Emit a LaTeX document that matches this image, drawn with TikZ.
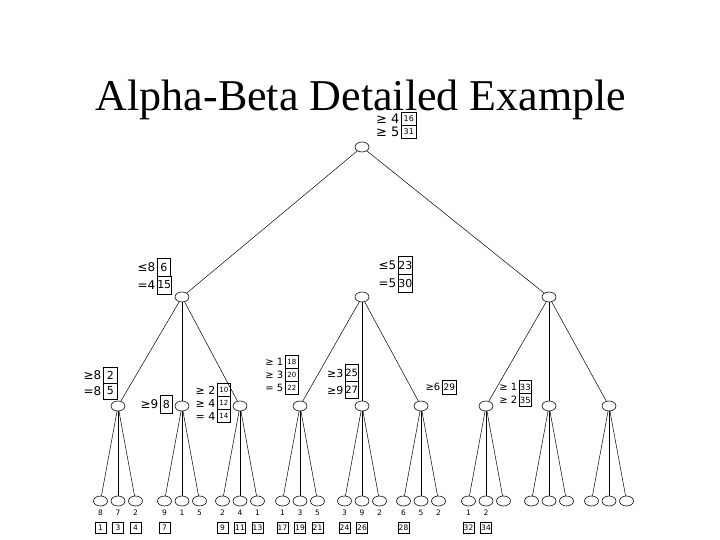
\documentclass[tikz,border=0pt]{standalone}
\usepackage{fontspec}
\setmainfont{Liberation Serif}
\newfontfamily\lblfont{DejaVu Sans}
\usetikzlibrary{shapes.geometric}
\newcommand\lrow[5]{%
  \node[lbtxt,anchor=east] (#1t) at (#2-1,#3) {#4};
  \node[lbbox,anchor=west] (#1b) at (#2,#3) {#5};}
\begin{document}
\begin{tikzpicture}[x=1pt,y=-1pt,
  st/.style={draw, ellipse, minimum width=14pt, minimum height=10pt, inner sep=0pt, line width=0.6pt},
  edge/.style={line width=0.5pt},
  lbtxt/.style={inner sep=0.5pt, font=\lblfont\fontsize{12}{12}\selectfont},
  lbbox/.style={draw, line width=0.5pt, inner sep=0pt, minimum width=13pt, minimum height=18pt, font=\lblfont\fontsize{11}{11}\selectfont},
  leafval/.style={font=\lblfont\fontsize{7.5}{8}\selectfont, inner sep=0pt},
  stepbox/.style={draw, line width=0.5pt, minimum size=11pt, inner sep=0pt, font=\lblfont\fontsize{7.5}{8}\selectfont}]
\path[use as bounding box] (0,0) rectangle (720,540);
\node[font=\fontsize{44}{44}\selectfont, anchor=base, inner sep=0pt] (title) at (361,111) {Alpha-Beta Detailed Example};

\node[st] (r) at (362,147) {};
\node[st] (a) at (182,297) {};
\node[st] (b) at (362,297) {};
\node[st] (c) at (549,297) {};
\draw[edge] (r) -- (a);
\draw[edge] (r) -- (c);

\foreach \i/\x/\p in {1/118/a,2/182/a,3/240/a,4/300/b,5/362/b,6/421/b,7/486/c,8/549/c,9/609/c} {
  \node[st] (m\i) at (\x,406) {};
  \draw[edge] (\p) -- (m\i);
  \foreach \j/\d in {1/-17.5,2/0,3/17.5} {
    \node[st] (l\i\j) at (\x+\d,501) {};
    \draw[edge] (m\i) -- (l\i\j);
  }
}

\foreach \n/\v in {l11/8,l12/7,l13/2,l21/9,l22/1,l23/5,l31/2,l32/4,l33/1,l41/1,l42/3,l43/5,l51/3,l52/9,l53/2,l61/6,l62/5,l63/2,l71/1,l72/2}
  \node[leafval] (v\n) at ([yshift=-12pt]\n.center) {\v};

\foreach \n/\v in {l11/1,l12/3,l13/4,l21/7,l31/9,l32/11,l33/13,l41/17,l42/19,l43/21,l51/24,l52/26,l61/28,l71/32,l72/34}
  \node[stepbox] (s\n) at ([yshift=-27pt]\n.center) {\v};

% root label
\begin{scope}[lbtxt/.append style={font=\lblfont\fontsize{13}{13}\selectfont},
  lbbox/.append style={minimum width=15pt, minimum height=13pt, font=\lblfont\fontsize{8}{8}\selectfont}]
\lrow{rA}{401}{119}{≥ 4}{16}
\lrow{rB}{401}{132}{≥ 5}{31}
\end{scope}
% level 1 labels
\lrow{aA}{157}{267}{≤8}{6}
\lrow{aB}{157}{285}{=4}{15}
\begin{scope}[lbbox/.append style={minimum width=14pt}]
\lrow{bA}{398}{265}{≤5}{23}
\lrow{bB}{398}{283}{=5}{30}
\end{scope}
% level 2 labels
\begin{scope}[lbbox/.append style={minimum width=14pt, minimum height=16pt}]
\lrow{gaA}{103}{375}{≥8}{2}
\lrow{gaB}{103}{391}{=8}{5}
\end{scope}
\begin{scope}[lbbox/.append style={minimum width=12pt}]
\lrow{gbA}{160}{404}{≥9}{8}
\end{scope}
\begin{scope}[lbtxt/.append style={font=\lblfont\fontsize{11}{11}\selectfont},
  lbbox/.append style={minimum height=13pt, font=\lblfont\fontsize{7}{7}\selectfont}]
\lrow{gcA}{217}{390}{≥ 2}{10}
\lrow{gcB}{217}{403}{≥ 4}{12}
\lrow{gcC}{217}{416}{= 4}{14}
\end{scope}
\begin{scope}[lbtxt/.append style={font=\lblfont\fontsize{10}{10}\selectfont},
  lbbox/.append style={minimum height=13pt, font=\lblfont\fontsize{7}{7}\selectfont}]
\lrow{gdA}{285}{362}{≥ 1}{18}
\lrow{gdB}{285}{375}{≥ 3}{20}
\lrow{gdC}{285}{388}{= 5}{22}
\end{scope}
\begin{scope}[lbtxt/.append style={font=\lblfont\fontsize{11}{11}\selectfont},
  lbbox/.append style={minimum width=12pt, minimum height=17pt, font=\lblfont\fontsize{10}{10}\selectfont}]
\lrow{geA}{345}{373}{≥3}{25}
\lrow{geB}{345}{390}{≥9}{27}
\end{scope}
\begin{scope}[lbtxt/.append style={font=\lblfont\fontsize{10}{10}\selectfont},
  lbbox/.append style={minimum width=14pt, minimum height=14pt, font=\lblfont\fontsize{9}{9}\selectfont}]
\lrow{gfA}{442}{387}{≥6}{29}
\end{scope}
\begin{scope}[lbtxt/.append style={font=\lblfont\fontsize{10}{10}\selectfont},
  lbbox/.append style={minimum width=12pt, minimum height=13pt, font=\lblfont\fontsize{8.5}{9}\selectfont}]
\lrow{ggA}{519}{387}{≥ 1}{33}
\lrow{ggB}{519}{400}{≥ 2}{35}
\end{scope}
\end{tikzpicture}
\end{document}
